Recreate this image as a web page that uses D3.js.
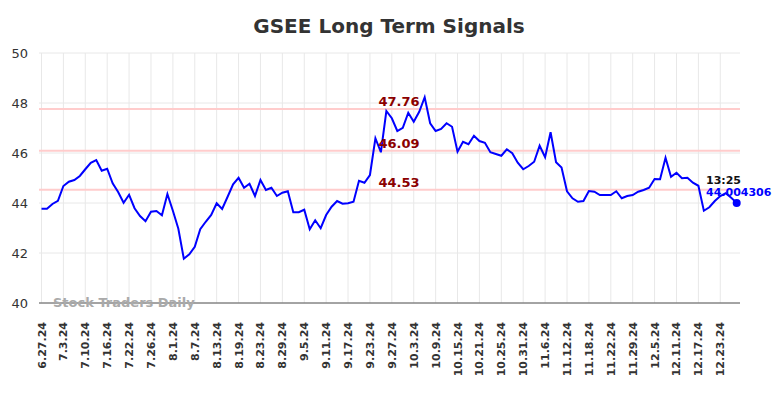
<!DOCTYPE html>
<html>
<head>
<meta charset="utf-8">
<script src="https://cdn.jsdelivr.net/npm/d3@7"></script>
<style>
  body { margin: 0; background: #fff; }
  svg { font-family: "DejaVu Sans", sans-serif; }
</style>
</head>
<body>
<svg width="784" height="398"></svg>
<script>
// tick labels, one every 4 trading days
var tickLabels = ["6.27.24", "7.3.24", "7.10.24", "7.16.24", "7.22.24", "7.26.24", "8.1.24", "8.7.24",
  "8.13.24", "8.19.24", "8.23.24", "8.29.24", "9.5.24", "9.11.24", "9.17.24", "9.23.24", "9.27.24",
  "10.3.24", "10.9.24", "10.15.24", "10.21.24", "10.25.24", "10.31.24", "11.6.24", "11.12.24",
  "11.18.24", "11.22.24", "11.29.24", "12.5.24", "12.11.24", "12.17.24", "12.23.24"];

// daily values
var values = [
  43.77, 43.77, 43.96, 44.09, 44.68, 44.85, 44.92, 45.08, 45.35, 45.61,
  45.72, 45.29, 45.37, 44.79, 44.44, 44.01, 44.33, 43.79, 43.48, 43.27,
  43.65, 43.68, 43.51, 44.36, 43.69, 42.97, 41.77, 41.95, 42.25, 42.95,
  43.25, 43.52, 43.99, 43.76, 44.25, 44.75, 45.01, 44.61, 44.77, 44.28,
  44.92, 44.52, 44.61, 44.28, 44.41, 44.47, 43.63, 43.63, 43.73, 42.95,
  43.31, 42.99, 43.52, 43.85, 44.08, 43.97, 43.99, 44.05, 44.89, 44.81,
  45.12, 46.59, 46.03, 47.68, 47.39, 46.88, 47.01, 47.61, 47.25, 47.65,
  48.23, 47.19, 46.88, 46.96, 47.19, 47.05, 46.05, 46.45, 46.35, 46.69,
  46.48, 46.41, 46.03, 45.96, 45.89, 46.15, 45.99, 45.61, 45.35, 45.48,
  45.65, 46.29, 45.83, 46.83, 45.63, 45.42, 44.47, 44.19, 44.05, 44.08,
  44.48, 44.45, 44.32, 44.32, 44.32, 44.47, 44.19, 44.28, 44.32, 44.45,
  44.52, 44.61, 44.96, 44.95, 45.81, 45.05, 45.21, 44.99, 45.01, 44.81,
  44.69, 43.69, 43.83, 44.08, 44.28, 44.39, 44.21, 44.004306
];

var yTicks = [40, 42, 44, 46, 48, 50];
var levels = [47.76, 46.09, 44.53];
var lastTime = "13:25";

var svg = d3.select("svg");

var x = d3.scaleLinear().domain([0, values.length - 1]).range([41.5, 736.7]);
var y = d3.scaleLinear().domain([40, 50]).range([303, 53]);
var left = 39, right = 740;

// title
svg.append("text")
    .attr("x", 389).attr("y", 33)
    .attr("text-anchor", "middle")
    .attr("font-size", 20).attr("font-weight", "bold")
    .attr("fill", "#333")
    .text("GSEE Long Term Signals");

// horizontal grid
svg.append("g").selectAll("line")
    .data(yTicks)
    .join("line")
    .attr("x1", left).attr("x2", right)
    .attr("y1", d => y(d)).attr("y2", d => y(d))
    .attr("stroke", "#e8e8e8").attr("stroke-width", 1);

// vertical grid
var tickIdx = tickLabels.map((d, i) => i * 4);
svg.append("g").selectAll("line")
    .data(tickIdx)
    .join("line")
    .attr("x1", d => x(d)).attr("x2", d => x(d))
    .attr("y1", y(50)).attr("y2", y(40))
    .attr("stroke", "#e8e8e8").attr("stroke-width", 1);

// y labels
svg.append("g").selectAll("text")
    .data(yTicks)
    .join("text")
    .attr("x", 28).attr("y", d => y(d) + 5)
    .attr("text-anchor", "end")
    .attr("font-size", 13).attr("fill", "#333")
    .text(d => d);

// x labels
svg.append("g").selectAll("text")
    .data(tickLabels)
    .join("text")
    .attr("transform", (d, i) => "translate(" + (x(i * 4) + 4) + ",322) rotate(-90)")
    .attr("text-anchor", "end")
    .attr("font-size", 11).attr("font-weight", "bold").attr("fill", "#333")
    .text(d => d);

// bottom axis line
svg.append("line")
    .attr("x1", left).attr("x2", right)
    .attr("y1", y(40)).attr("y2", y(40))
    .attr("stroke", "#555").attr("stroke-width", 1.2);

// signal levels
svg.append("g").selectAll("line")
    .data(levels)
    .join("line")
    .attr("x1", left).attr("x2", right)
    .attr("y1", d => y(d)).attr("y2", d => y(d))
    .attr("stroke", "#ffcccc").attr("stroke-width", 2);

// watermark
svg.append("text")
    .attr("x", 53).attr("y", 307)
    .attr("font-size", 13).attr("font-weight", "bold")
    .attr("fill", "#aaa")
    .text("Stock Traders Daily");

// price line
var line = d3.line()
    .x((d, i) => x(i))
    .y(d => y(d));

svg.append("path")
    .datum(values)
    .attr("d", line)
    .attr("fill", "none")
    .attr("stroke", "#0000ff")
    .attr("stroke-width", 2);

// level labels
svg.append("g").selectAll("text")
    .data(levels)
    .join("text")
    .attr("x", 399).attr("y", d => y(d) - 3)
    .attr("text-anchor", "middle")
    .attr("font-size", 13).attr("font-weight", "bold")
    .attr("fill", "#8b0000")
    .text(d => d.toFixed(2));

// last point
var lastI = values.length - 1;
svg.append("circle")
    .attr("cx", x(lastI)).attr("cy", y(values[lastI]))
    .attr("r", 4).attr("fill", "#0000ff");

svg.append("text")
    .attr("x", 706).attr("y", 184)
    .attr("font-size", 11).attr("font-weight", "bold").attr("fill", "#111")
    .text(lastTime);

svg.append("text")
    .attr("x", 706).attr("y", 196)
    .attr("font-size", 11).attr("font-weight", "bold").attr("fill", "#0000ff")
    .text(values[lastI]);
</script>
</body>
</html>
